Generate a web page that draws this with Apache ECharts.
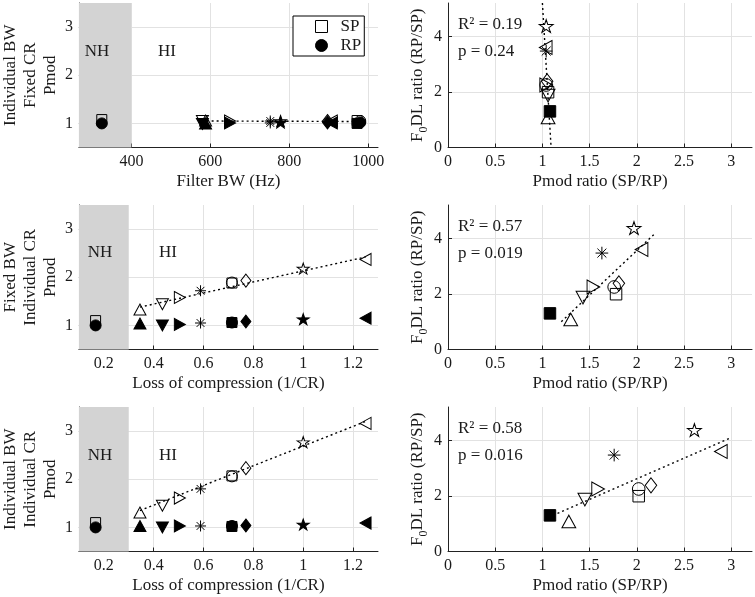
<!DOCTYPE html>
<html><head><meta charset="utf-8">
<script src="https://cdn.jsdelivr.net/npm/echarts@6/dist/echarts.min.js"></script>
<style>html,body{margin:0;padding:0;background:#fff}#c{width:755px;height:597px}</style>
</head><body><div id="c"></div>
<script>
// ---------------- data ----------------
const subjects = ['NH', 'HI1', 'HI2', 'HI3', 'HI4', 'HI5', 'HI6', 'HI7', 'HI8', 'HI9'];
const markers  = ['square', 'triUp', 'triDown', 'triRight', 'asterisk', 'square', 'circle', 'diamond', 'star', 'triLeft'];

// Row 1: Individual BW, Fixed CR
const filterBW = [325, 588, 580, 650, 752, 972, 980, 897, 778, 908];
const pmodSP1  = [1.08, 1.06, 1.05, 1.05, 1.05, 1.06, 1.05, 1.05, 1.05, 1.05];
const pmodRP1  = [1.00, 1.00, 0.99, 1.01, 1.01, 1.00, 1.02, 1.02, 1.02, 1.01];
// Row 2: Fixed BW, Individual CR
const lossComp = [0.167, 0.345, 0.435, 0.505, 0.588, 0.714, 0.714, 0.77, 1.0, 1.25];
const pmodSP2  = [1.10, 1.33, 1.44, 1.58, 1.72, 1.88, 1.89, 1.93, 2.18, 2.37];
const pmodRP2  = [1.00, 1.04, 1.00, 1.02, 1.05, 1.06, 1.06, 1.08, 1.13, 1.15];
// Row 3: Individual BW, Individual CR
const pmodSP3  = [1.10, 1.31, 1.45, 1.61, 1.80, 2.07, 2.06, 2.23, 2.77, 3.16];
const pmodRP3  = [1.00, 1.03, 1.00, 1.03, 1.03, 1.02, 1.03, 1.04, 1.06, 1.09];
// Right column
const f0dlRatio  = [1.30, 1.08, 1.87, 2.25, 3.47, 1.99, 2.25, 2.38, 4.37, 3.60];
const pmodRatio1 = [1.08, 1.06, 1.06, 1.04, 1.04, 1.06, 1.04, 1.05, 1.04, 1.035];
const pmodRatio2 = [1.08, 1.30, 1.43, 1.54, 1.63, 1.78, 1.76, 1.81, 1.97, 2.05];
const pmodRatio3 = [1.08, 1.28, 1.45, 1.59, 1.76, 2.02, 2.02, 2.15, 2.61, 2.89];

// Fit lines (end points)
const fit1LeftX = [578, 980],    fit1LeftY = [1.05, 1.04];
const fit2LeftX = [0.345, 1.25], fit2LeftY = [1.38, 2.42];
const fit3LeftX = [0.345, 1.25], fit3LeftY = [1.35, 3.20];
const fit1RightX = [1.0, 1.092], fit1RightY = [5.2, 0];
const fit2RightX = [1.2, 2.2],   fit2RightY = [1.0, 4.2];
const fit3RightX = [1.16, 3.0],  fit3RightY = [1.37, 4.1];

const r2Text = ['0.19', '0.57', '0.58'];
const pText  = ['0.24', '0.019', '0.016'];

// Axis settings
const bwRange = [267, 1025], bwTicks = [400, 600, 800, 1000], bwNH = 400;
const lcRange = [0.1, 1.3], lcTicks = [0.2, 0.4, 0.6, 0.8, 1.0, 1.2], lcNH = 0.3;
const pmodRange = [0.5, 3.5], pmodTicks = [1, 2, 3];
const ratioXRange = [0, 3.22], ratioXTicks = [0, 0.5, 1, 1.5, 2, 2.5, 3];
const ratioYRange = [0, 5.2], ratioYTicks = [0, 2, 4];
const leftYNames = ['Individual BW\nFixed CR\nPmod', 'Fixed BW\nIndividual CR\nPmod', 'Individual BW\nIndividual CR\nPmod'];

// ---------------- styling ----------------
const FONT = 'Liberation Serif';
const TXT = '#1a1a1a';
const symbolPaths = {
  square: 'rect', circle: 'circle', diamond: 'diamond',
  triUp: 'path://M5,0L10,10L0,10Z',
  triDown: 'path://M0,0L10,0L5,10Z',
  triRight: 'path://M0,0L10,5L0,10Z',
  triLeft: 'path://M10,0L0,5L10,10Z',
  star: 'path://M10,0L12.25,6.91L19.51,6.91L13.63,11.18L15.88,18.09L10,13.82L4.12,18.09L6.37,11.18L0.49,6.91L7.75,6.91Z',
  asterisk: 'path://M10,0L10,20M0,10L20,10M2.93,2.93L17.07,17.07M2.93,17.07L17.07,2.93'
};
const symbolSizes = {
  square: [10, 10], circle: [11, 11], diamond: [10, 13], triUp: [12, 11], triDown: [12, 11],
  triRight: [11, 12], triLeft: [11, 12], star: [12, 11], asterisk: [11, 11]
};
function item(x, y, shape, filled, scale) {
  const s = symbolSizes[shape];
  return {
    value: [x, y], symbol: symbolPaths[shape], symbolSize: [s[0] * scale, s[1] * scale],
    itemStyle: { color: filled ? '#000' : 'rgba(255,255,255,0)', borderColor: '#000', borderWidth: 1, opacity: 1 }
  };
}

const leftGrid = { left: 73, width: 305 };
const rightGrid = { left: 448, width: 304 };
const tops = [3, 205, 407];
const H = 144.5;

const grids = [], xAxes = [], yAxes = [], series = [], graphics = [];

function axisCommon(ticks) {
  return {
    type: 'value',
    axisLine: { show: true, onZero: false, lineStyle: { color: '#222', width: 1 } },
    axisTick: { show: true, inside: true, length: 4, customValues: ticks, lineStyle: { color: '#222' } },
    axisLabel: { customValues: ticks, fontFamily: FONT, fontSize: 16, color: TXT, margin: 6, formatter: v => String(v) },
    splitLine: { show: true, lineStyle: { color: '#e2e2e2', width: 1 } },
    nameTextStyle: { fontFamily: FONT, fontSize: 17, color: TXT }
  };
}

const leftX = [filterBW, lossComp, lossComp];
const leftSP = [pmodSP1, pmodSP2, pmodSP3];
const leftRP = [pmodRP1, pmodRP2, pmodRP3];
const rightX = [pmodRatio1, pmodRatio2, pmodRatio3];
const fitsL = [[fit1LeftX, fit1LeftY], [fit2LeftX, fit2LeftY], [fit3LeftX, fit3LeftY]];
const fitsR = [[fit1RightX, fit1RightY], [fit2RightX, fit2RightY], [fit3RightX, fit3RightY]];

for (let r = 0; r < 3; r++) {
  // left grid
  const gL = grids.length;
  grids.push({ left: leftGrid.left, width: leftGrid.width, top: tops[r], height: H });
  const xr = r === 0 ? bwRange : lcRange;
  const xt = r === 0 ? bwTicks : lcTicks;
  const nhB = r === 0 ? bwNH : lcNH;
  xAxes.push(Object.assign(axisCommon(xt), {
    gridIndex: gL, min: xr[0], max: xr[1],
    name: r === 0 ? 'Filter BW (Hz)' : 'Loss of compression (1/CR)',
    nameLocation: 'middle', nameGap: 26
  }));
  yAxes.push(Object.assign(axisCommon(pmodTicks), {
    gridIndex: gL, min: pmodRange[0], max: pmodRange[1],
    name: leftYNames[r], nameLocation: 'middle', nameGap: 13,
    nameTextStyle: { fontFamily: FONT, fontSize: 17, color: TXT, lineHeight: 20 }
  }));
  series.push({
    type: 'scatter', name: 'SP', xAxisIndex: gL, yAxisIndex: gL, z: 3,
    itemStyle: { opacity: 1 },
    data: subjects.map((s, i) => item(leftX[r][i], leftSP[r][i], markers[i], false, 1)),
    markArea: { silent: true, z: 1, itemStyle: { color: '#d3d3d3', opacity: 1 }, data: [[{ xAxis: xr[0] }, { xAxis: nhB }]] }
  });
  series.push({
    type: 'line', xAxisIndex: gL, yAxisIndex: gL, z: 4, symbol: 'none', silent: true,
    lineStyle: { color: '#000', width: 1.4, type: [2, 3] },
    data: fitsL[r][0].map((x, i) => [x, fitsL[r][1][i]])
  });
  series.push({
    type: 'scatter', name: 'RP', xAxisIndex: gL, yAxisIndex: gL, z: 5,
    itemStyle: { opacity: 1 },
    data: subjects.map((s, i) => item(leftX[r][i], leftRP[r][i], i === 0 ? 'circle' : markers[i], true, 1))
  });

  // right grid
  const gR = grids.length;
  grids.push({ left: rightGrid.left, width: rightGrid.width, top: tops[r], height: H });
  xAxes.push(Object.assign(axisCommon(ratioXTicks), {
    gridIndex: gR, min: ratioXRange[0], max: ratioXRange[1],
    name: 'Pmod ratio (SP/RP)', nameLocation: 'middle', nameGap: 26
  }));
  yAxes.push(Object.assign(axisCommon(ratioYTicks), {
    gridIndex: gR, min: ratioYRange[0], max: ratioYRange[1],
    name: '{n|F}{s|0}{n|DL ratio (RP/SP)}', nameLocation: 'middle', nameGap: 21,
    nameTextStyle: {
      fontFamily: FONT, fontSize: 17, color: TXT,
      rich: {
        n: { fontFamily: FONT, fontSize: 17, color: TXT, lineHeight: 18, verticalAlign: 'top' },
        s: { fontFamily: FONT, fontSize: 12, color: TXT, lineHeight: 12, padding: [9, 0, 0, 0], verticalAlign: 'top' }
      }
    }
  }));
  series.push({
    type: 'line', xAxisIndex: gR, yAxisIndex: gR, z: 4, symbol: 'none', silent: true,
    lineStyle: { color: '#000', width: 1.4, type: [2, 3] },
    data: fitsR[r][0].map((x, i) => [x, fitsR[r][1][i]])
  });
  series.push({
    type: 'scatter', xAxisIndex: gR, yAxisIndex: gR, z: 5,
    itemStyle: { opacity: 1 },
    data: subjects.map((s, i) => item(rightX[r][i], f0dlRatio[i], markers[i], i === 0, 1.15))
  });

  // annotations
  const nhX = r === 0 ? 97 : 100, hiX = r === 0 ? 167 : 168;
  const ty = [52, 253, 456][r];
  const sty = (t, x, y, al) => ({
    type: 'text', x: x, y: y, z: 50,
    style: { text: t, font: '17px "' + FONT + '"', fill: TXT, textAlign: al, textVerticalAlign: 'middle', align: al, verticalAlign: 'middle' }
  });
  graphics.push(sty('NH', nhX, ty, 'center'));
  graphics.push(sty('HI', hiX, ty, 'center'));
  const sy = [25, 227, 429][r];
  graphics.push(sty('R\u00B2 = ' + r2Text[r], 458, sy, 'left'));
  graphics.push(sty('p = ' + pText[r], 458, sy + 27, 'left'));
}

const option = {
  animation: false,
  backgroundColor: '#fff',
  grid: grids,
  xAxis: xAxes,
  yAxis: yAxes,
  series: series,
  graphic: graphics,
  legend: {
    left: 293, top: 16, orient: 'vertical', selectedMode: false,
    backgroundColor: '#fff', borderColor: '#000', borderWidth: 1,
    padding: [2, 3, 2, 22], itemWidth: 12, itemHeight: 12, itemGap: 2,
    textStyle: { fontFamily: FONT, fontSize: 17, color: TXT, lineHeight: 16, padding: [0, 0, 0, 8] },
    data: [
      { name: 'SP', icon: 'rect', itemStyle: { color: '#fff', borderColor: '#000', borderWidth: 1 } },
      { name: 'RP', icon: 'circle', itemStyle: { color: '#000', borderColor: '#000', borderWidth: 1 } }
    ]
  }
};
const chart = echarts.init(document.getElementById('c'));
chart.setOption(option);
</script>
</body></html>
